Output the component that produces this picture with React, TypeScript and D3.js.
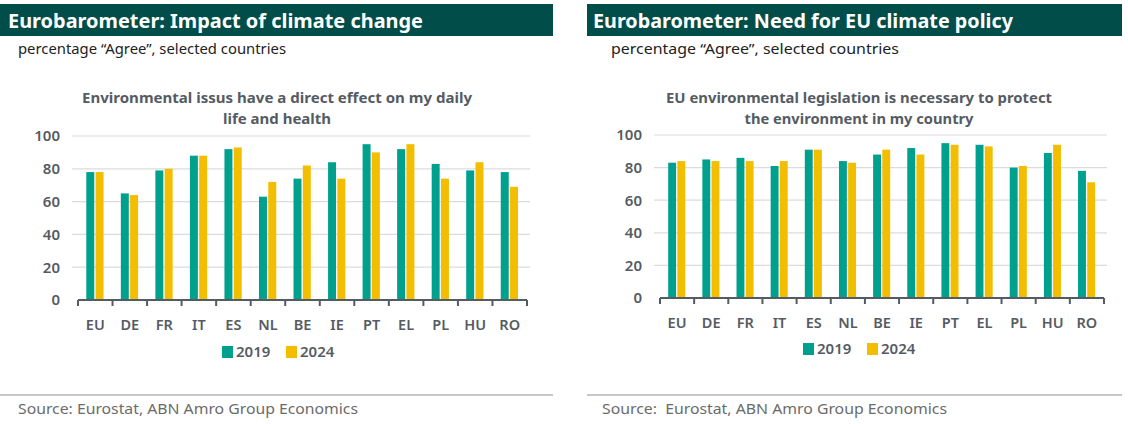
import * as React from "react";
import * as d3 from "d3";

const countries = ["EU", "DE", "FR", "IT", "ES", "NL", "BE", "IE", "PT", "EL", "PL", "HU", "RO"];
const years = ["2019", "2024"];

// Environmental issues have a direct effect on my daily life and health
const impact2019 = [78, 65, 79, 88, 92, 63, 74, 84, 95, 92, 83, 79, 78];
const impact2024 = [78, 64, 80, 88, 93, 72, 82, 74, 90, 95, 74, 84, 69];

// EU environmental legislation is necessary to protect the environment
const policy2019 = [83, 85, 86, 81, 91, 84, 88, 92, 95, 94, 80, 89, 78];
const policy2024 = [84, 84, 84, 84, 91, 83, 91, 88, 94, 93, 81, 94, 71];

const yTicks = [0, 20, 40, 60, 80, 100];

const HEADER = "#004d4a";
const TEAL = "#00a08f";
const YELLOW = "#f4be00";
const TXT = "#555b63";
const GRID = "#dcdcdc";
const FONT = "'Noto Sans', 'Open Sans', sans-serif";

interface PanelProps {
  x0: number;
  width: number;
  title: string;
  titleX: number;
  titleW: number;
  subX: number;
  subW: number;
  chartTitle: string[];
  chartTitleW: number[];
  chartTitleX: number;
  s2019: number[];
  s2024: number[];
  xRange: [number, number];
  yRange: [number, number];
  legendX: number;
  legendY: number;
  source: string;
  sourceX: number;
  sourceW: number;
}

function Panel(p: PanelProps) {
  const x = d3.scaleBand<string>().domain(countries).range(p.xRange).padding(0);
  const bw = x.bandwidth();
  const x1 = d3
    .scaleBand<string>()
    .domain(years)
    .range([bw * 0.24, bw * 0.74])
    .paddingInner(0.14);
  const y = d3.scaleLinear().domain([0, 100]).range(p.yRange);
  const series = [p.s2019, p.s2024];
  const colors = [TEAL, YELLOW];
  const gridL = p.xRange[0] - 6;
  const gridR = p.xRange[1] + 3;

  return (
    <g>
      <rect x={p.x0} y={4} width={p.width} height={32} fill={HEADER} />
      <text
        x={p.titleX}
        y={28}
        fill="#fff"
        fontSize={20}
        fontWeight={700}
        fontFamily={FONT}
        textLength={p.titleW}
        lengthAdjust="spacingAndGlyphs"
      >
        {p.title}
      </text>
      <text
        x={p.subX}
        y={54}
        fill="#222"
        fontSize={14.5}
        fontFamily={FONT}
        textLength={p.subW}
        lengthAdjust="spacingAndGlyphs"
      >
        percentage “Agree”, selected countries
      </text>

      {p.chartTitle.map((line, i) => (
        <text
          key={i}
          x={p.chartTitleX}
          y={103 + i * 21}
          textAnchor="middle"
          fill={TXT}
          fontSize={14.5}
          fontWeight={700}
          fontFamily={FONT}
          textLength={p.chartTitleW[i]}
          lengthAdjust="spacingAndGlyphs"
        >
          {line}
        </text>
      ))}

      {/* grid + y labels */}
      {yTicks.map((t) => (
        <g key={t}>
          {t > 0 && <line x1={gridL} x2={gridR} y1={y(t)} y2={y(t)} stroke={GRID} strokeWidth={1.2} />}
          <text
            x={gridL - 12}
            y={y(t)}
            dy="0.36em"
            textAnchor="end"
            fill={TXT}
            fontSize={15}
            fontWeight={600}
            fontFamily={FONT}
          >
            {t}
          </text>
        </g>
      ))}

      {/* bars */}
      {countries.map((c, i) => (
        <g key={c} transform={`translate(${x(c)},0)`}>
          {years.map((yr, k) => (
            <rect
              key={yr}
              x={x1(yr)}
              y={y(series[k][i])}
              width={x1.bandwidth()}
              height={y(0) - y(series[k][i])}
              fill={colors[k]}
            />
          ))}
          <text
            x={bw / 2}
            y={y(0) + 30}
            textAnchor="middle"
            fill={TXT}
            fontSize={14.5}
            fontWeight={600}
            fontFamily={FONT}
          >
            {c}
          </text>
        </g>
      ))}

      {/* x axis */}
      <line x1={p.xRange[0]} x2={p.xRange[1]} y1={y(0)} y2={y(0)} stroke={TXT} strokeWidth={2} />
      {d3.range(countries.length + 1).map((i) => {
        const xx = p.xRange[0] + i * bw;
        return <line key={i} x1={xx} x2={xx} y1={y(0)} y2={y(0) + 6} stroke={TXT} strokeWidth={2} />;
      })}

      {/* legend */}
      {years.map((yr, k) => (
        <g key={yr} transform={`translate(${p.legendX + k * 64},${p.legendY})`}>
          <rect x={0} y={-6} width={11} height={12} fill={colors[k]} />
          <text x={14} y={0} dy="0.36em" fill={TXT} fontSize={15} fontWeight={600} fontFamily={FONT}>
            {yr}
          </text>
        </g>
      ))}

      {/* footer */}
      <line x1={p.x0} x2={p.x0 + p.width} y1={395} y2={395} stroke="#b5b5b5" strokeWidth={1.5} />
      <text
        x={p.sourceX}
        y={414}
        fill="#6b6b6b"
        fontSize={15}
        fontFamily={FONT}
        textLength={p.sourceW}
        lengthAdjust="spacingAndGlyphs"
      >
        {p.source}
      </text>
    </g>
  );
}

export default function App() {
  return (
    <svg
      width={1128}
      height={424}
      style={{ position: "absolute", left: 0, top: 0, background: "#fff" }}
    >
      <rect width={1128} height={424} fill="#fff" />
      <Panel
        x0={0}
        width={553}
        title="Eurobarometer: Impact of climate change"
        titleX={8}
        titleW={415}
        subX={18}
        subW={268}
        chartTitle={["Environmental issus have a direct effect on my daily", "life and health"]}
        chartTitleW={[390, 108]}
        chartTitleX={277}
        s2019={impact2019}
        s2024={impact2024}
        xRange={[78, 527]}
        yRange={[300, 136]}
        legendX={222}
        legendY={352}
        source="Source: Eurostat, ABN Amro Group Economics"
        sourceX={18}
        sourceW={340}
      />
      <Panel
        x0={587}
        width={535}
        title="Eurobarometer: Need for EU climate policy"
        titleX={593}
        titleW={420}
        subX={611}
        subW={288}
        chartTitle={["EU environmental legislation is necessary to protect", "the environment in my country"]}
        chartTitleW={[386, 229]}
        chartTitleX={859}
        s2019={policy2019}
        s2024={policy2024}
        xRange={[660, 1104]}
        yRange={[298, 135]}
        legendX={803}
        legendY={349}
        source={"Source:\u00a0 Eurostat, ABN Amro Group Economics"}
        sourceX={602}
        sourceW={345}
      />
    </svg>
  );
}
